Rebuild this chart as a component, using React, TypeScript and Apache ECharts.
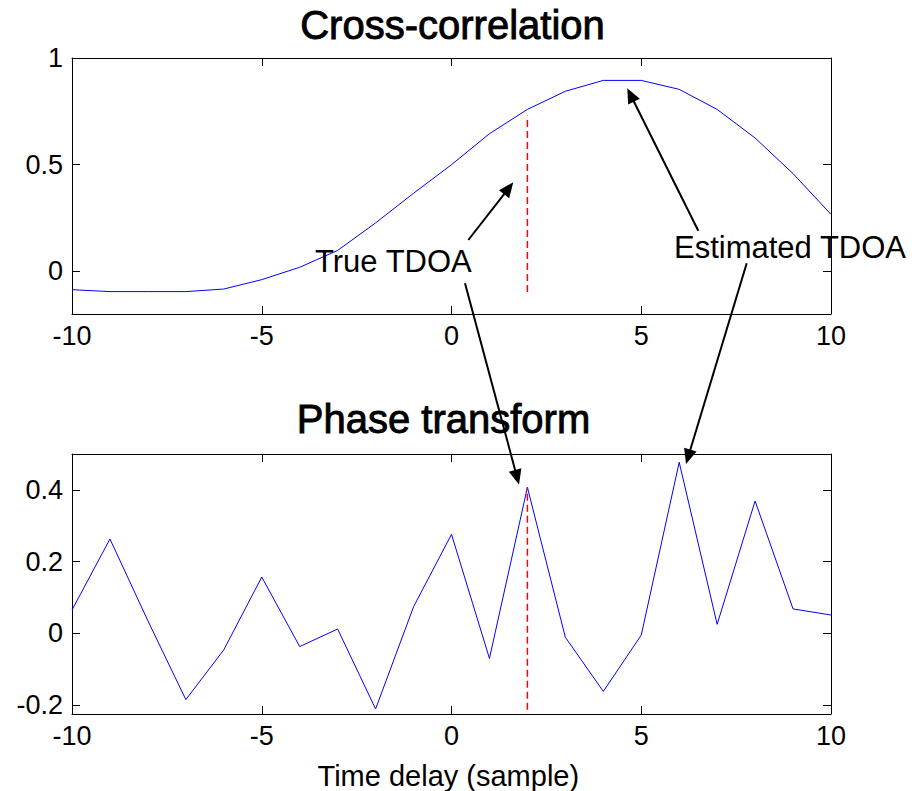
import React, { useEffect, useRef } from "react";
import * as echarts from "echarts";

const FONT = "'Liberation Sans', Arial, Helvetica, sans-serif";

const lags = [-10, -9, -8, -7, -6, -5, -4, -3, -2, -1, 0, 1, 2, 3, 4, 5, 6, 7, 8, 9, 10];
const crossCorr = [
  -0.086, -0.095, -0.095, -0.095, -0.083, -0.039, 0.019, 0.098, 0.227, 0.366, 0.5,
  0.645, 0.759, 0.844, 0.895, 0.895, 0.853, 0.759, 0.625, 0.458, 0.267,
];
const phaseTransform = [
  0.065, 0.263, 0.035, -0.185, -0.046, 0.157, -0.037, 0.012, -0.211, 0.074, 0.276,
  -0.07, 0.407, -0.011, -0.162, -0.005, 0.477, 0.025, 0.369, 0.068, 0.051,
];
const trueLag = 2;
const topDashRange = [-0.097, 0.731];
const bottomDashRange = [-0.213, 0.407];

const xTicks = { min: -10, max: 10, interval: 5 };
const topYRange = { min: -0.2, max: 1 };
const topYTicks = [0, 0.5, 1];
const bottomYRange = { min: -0.225, max: 0.5 };
const bottomYTicks = [-0.2, 0, 0.2, 0.4];

const titles = ["Cross-correlation", "Phase transform"];
const xLabel = "Time delay (sample)";
const annotations = ["True TDOA", "Estimated TDOA"];

function arrow(tail: number[], tip: number[]) {
  const dx = tip[0] - tail[0];
  const dy = tip[1] - tail[1];
  const len = Math.sqrt(dx * dx + dy * dy);
  const ux = dx / len;
  const uy = dy / len;
  const headLen = 15;
  const headHalf = 6.5;
  const bx = tip[0] - ux * headLen;
  const by = tip[1] - uy * headLen;
  const px = -uy;
  const py = ux;
  return [
    {
      type: "line",
      shape: { x1: tail[0], y1: tail[1], x2: bx + ux * 2, y2: by + uy * 2 },
      style: { stroke: "#000", lineWidth: 2 },
      z: 100,
    },
    {
      type: "polygon",
      shape: {
        points: [
          [tip[0], tip[1]],
          [bx + px * headHalf, by + py * headHalf],
          [bx - px * headHalf, by - py * headHalf],
        ],
      },
      style: { fill: "#000" },
      z: 100,
    },
  ];
}

function xAxisDef(gridIndex: number, position: string, showLabel: boolean) {
  return {
    gridIndex,
    type: "value",
    position,
    min: xTicks.min,
    max: xTicks.max,
    interval: xTicks.interval,
    axisLine: { show: true, onZero: false, lineStyle: { color: "#000", width: 1 } },
    axisTick: { show: true, inside: true, length: 8, lineStyle: { color: "#000", width: 1 } },
    axisLabel: {
      show: showLabel,
      color: "#000",
      fontSize: 27,
      fontFamily: FONT,
      margin: 8,
    },
    splitLine: { show: false },
  };
}

function yAxisDef(
  gridIndex: number,
  position: string,
  showLabel: boolean,
  range: { min: number; max: number },
  ticks: number[]
) {
  return {
    gridIndex,
    type: "value",
    position,
    min: range.min,
    max: range.max,
    axisLine: { show: true, onZero: false, lineStyle: { color: "#000", width: 1 } },
    axisTick: {
      show: true,
      inside: true,
      length: 8,
      customValues: ticks,
      lineStyle: { color: "#000", width: 1 },
    },
    axisLabel: {
      show: showLabel,
      color: "#000",
      fontSize: 27,
      fontFamily: FONT,
      margin: 9,
      customValues: ticks,
    },
    splitLine: { show: false },
  };
}

function titleText(text: string, x: number, y: number) {
  return {
    type: "text",
    x,
    y,
    style: {
      text,
      fontSize: 40,
      fontFamily: FONT,
      fill: "#000",
      stroke: "#000",
      lineWidth: 0.9,
      align: "center",
      verticalAlign: "middle",
    },
  };
}

export default function App() {
  const ref = useRef<HTMLDivElement>(null);
  useEffect(() => {
    if (!ref.current) return;
    const chart = echarts.init(ref.current, undefined, { renderer: "svg" });
    const topData = lags.map((x, i) => [x, crossCorr[i]]);
    const bottomData = lags.map((x, i) => [x, phaseTransform[i]]);
    const option: any = {
      animation: false,
      backgroundColor: "#fff",
      grid: [
        { left: 72, top: 58, width: 759, height: 256 },
        { left: 72, top: 454, width: 759, height: 260 },
      ],
      xAxis: [
        xAxisDef(0, "bottom", true),
        xAxisDef(0, "top", false),
        xAxisDef(1, "bottom", true),
        xAxisDef(1, "top", false),
      ],
      yAxis: [
        yAxisDef(0, "left", true, topYRange, topYTicks),
        yAxisDef(0, "right", false, topYRange, topYTicks),
        yAxisDef(1, "left", true, bottomYRange, bottomYTicks),
        yAxisDef(1, "right", false, bottomYRange, bottomYTicks),
      ],
      series: [
        {
          type: "line",
          xAxisIndex: 0,
          yAxisIndex: 0,
          data: topData,
          showSymbol: false,
          lineStyle: { color: "#0000ff", width: 1 },
        },
        {
          type: "line",
          xAxisIndex: 0,
          yAxisIndex: 0,
          data: topDashRange.map((v) => [trueLag, v]),
          showSymbol: false,
          lineStyle: { color: "#ff0000", width: 1.5, type: [7, 4] },
        },
        {
          type: "line",
          xAxisIndex: 2,
          yAxisIndex: 2,
          data: bottomData,
          showSymbol: false,
          lineStyle: { color: "#0000ff", width: 1 },
        },
        {
          type: "line",
          xAxisIndex: 2,
          yAxisIndex: 2,
          data: bottomDashRange.map((v) => [trueLag, v]),
          showSymbol: false,
          lineStyle: { color: "#ff0000", width: 1.5, type: [7, 4] },
        },
      ],
      graphic: [
        titleText(titles[0], 452.5, 25),
        titleText(titles[1], 443.5, 419),
        {
          type: "text",
          x: 448.3,
          y: 776,
          style: {
            text: xLabel,
            fontSize: 29,
            fontFamily: FONT,
            fill: "#000",
            align: "center",
            verticalAlign: "middle",
          },
        },
        {
          type: "text",
          x: 315,
          y: 261.5,
          z: 100,
          style: {
            text: annotations[0],
            fontSize: 31,
            fontFamily: FONT,
            fill: "#000",
            align: "left",
            verticalAlign: "middle",
          },
        },
        {
          type: "text",
          x: 674,
          y: 247.5,
          z: 100,
          style: {
            text: annotations[1],
            fontSize: 31,
            fontFamily: FONT,
            fill: "#000",
            align: "left",
            verticalAlign: "middle",
          },
        },
        ...arrow([468.3, 240], [513.3, 182.3]),
        ...arrow([465, 283.3], [519, 484.5]),
        ...arrow([698.3, 230.7], [627.3, 88.3]),
        ...arrow([746.7, 263.3], [686, 464]),
      ],
    };
    chart.setOption(option);
    return () => chart.dispose();
  }, []);
  return (
    <div
      ref={ref}
      style={{ position: "fixed", left: 0, top: 0, width: 916, height: 791, background: "#fff" }}
    />
  );
}
